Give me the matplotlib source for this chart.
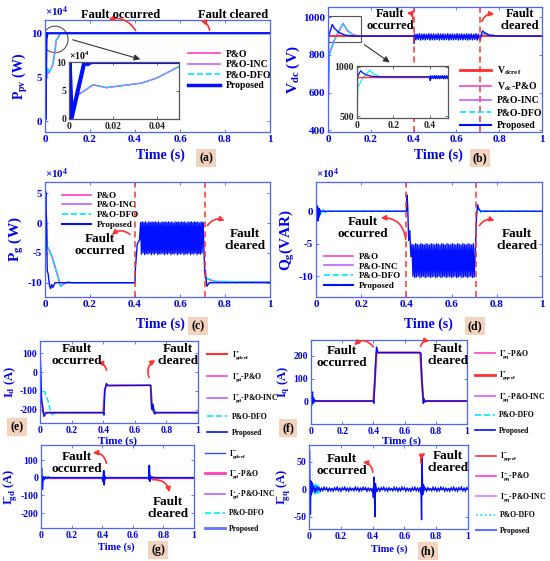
import numpy as np
import matplotlib
matplotlib.use("Agg")
import matplotlib.pyplot as plt
from matplotlib.lines import Line2D
from matplotlib.patches import Ellipse, Rectangle, FancyArrowPatch

plt.rcParams['font.family'] = ['Liberation Serif', 'DejaVu Serif']
plt.rcParams['font.weight'] = 'bold'
plt.rcParams['mathtext.fontset'] = 'custom'
plt.rcParams['mathtext.rm'] = 'Liberation Serif:bold'
plt.rcParams['mathtext.it'] = 'Liberation Serif:bold'
plt.rcParams['mathtext.bf'] = 'Liberation Serif:bold'

W, H = 550, 561
C_PO = '#ff3fbf'
C_INC = '#c060ff'
C_DFO = '#00e8ff'
C_PROP = '#0010ff'
C_REF = '#ff3030'
C_AX = '#4a66ff'
C_TXT = '#0000ee'

T_FAULT_ON = 0.40
T_FAULT_OFF = 0.71

# ---------------- (a) Ppv  (x1e4 W) ----------------
a_t_prop = [0, 0.0003, 0.0012, 0.007, 0.0085, 0.0095, 0.011, 1.0]
a_v_prop = [0, 10, 0.2, 10, 9.6, 9.9, 10, 10]
a_t_po = [0, 0.004, 0.011, 0.017, 0.025, 0.033, 0.040, 0.050, 0.060, 0.068, 0.075, 1.0]
a_v_po = [0, 4.2, 6.0, 5.5, 5.9, 6.3, 7.2, 9.2, 9.6, 10, 10, 10]

# ---------------- (b) Vdc ----------------
b_t_ref = [0, 1.0]
b_v_ref = [900, 900]
b_t_prop_pre = [0, 0.003, 0.02, 0.03, 0.05, 0.08, 0.12, 0.40, 0.402]
b_v_prop_pre = [450, 900, 962, 942, 920, 905, 900, 900, 862]
b_osc = [912, 880, 910, 882, 913, 879, 911, 881, 912, 880, 910, 883, 913, 879,
         911, 881, 912, 880, 910, 882, 913, 879, 911, 881, 912, 880, 910, 882,
         913, 879, 911, 881, 912, 880, 910, 882, 913, 879, 911, 881, 912, 880,
         910, 882, 913, 879, 911, 881, 912, 880, 910, 882, 913, 879, 911, 881]
b_t_prop_post = [0.712, 0.716, 0.722, 0.73, 0.75, 0.80, 1.0]
b_v_prop_post = [880, 905, 928, 920, 905, 900, 900]
b_t_dfo = [0, 0.005, 0.03, 0.07, 0.09, 0.12, 0.15, 0.40, 0.71, 0.72, 0.735, 0.76, 0.80, 1.0]
b_v_dfo = [450, 800, 880, 968, 930, 905, 900, 900, 900, 905, 915, 905, 900, 900]

# ---------------- (c) Pg  (x1e4 W) ----------------
c_t_prop_pre = [0, 0.003, 0.006, 0.010, 0.014, 0.020, 0.025, 0.030, 0.035, 0.045, 0.06,
                0.40, 0.402, 0.41, 0.42]
c_v_prop_pre = [0, 5.3, 1.0, -8.0, -8.5, -10.5, -11.0, -10.3, -10.8, -10.0, -10.0,
                -10.0, -7.5, -3.5, -2.8]
c_osc = [0.1, -5.2, 0.2, -5.0, 0.1, -5.3, 0.2, -5.1, 0.0, -5.2, 0.2, -5.0, 0.1, -5.3,
         0.2, -5.1, 0.1, -5.2, 0.2, -5.0, 0.1, -5.3, 0.2, -5.1, 0.0, -5.2, 0.2, -5.0,
         0.1, -5.3, 0.2, -5.1, 0.1, -5.2, 0.2, -5.0, 0.1, -5.3, 0.2, -5.1, 0.0, -5.2,
         0.2, -5.0, 0.1, -5.3, 0.2, -5.1, 0.1, -5.2, 0.2, -5.0, 0.1, -5.3, 0.2, -5.1,
         0.0, -5.2, 0.2, -5.0, 0.1, -5.3, 0.2, -5.1, 0.1, -5.2, 0.2, -5.0, 0.1, -5.3,
         0.2, -5.1, 0.0, -5.2, 0.2, -5.0, 0.1, -3.0]
c_t_prop_post = [0.71, 0.713, 0.716, 0.72, 0.73, 1.0]
c_v_prop_post = [-8.5, -8.0, -9.5, -10.6, -10.0, -10.0]
c_t_dfo_pre = [0, 0.003, 0.010, 0.020, 0.030, 0.050, 0.070, 0.080, 0.10, 0.12, 0.40]
c_v_dfo_pre = [0, 5.0, -4.0, -4.6, -5.5, -8.0, -10.6, -10.3, -9.9, -10.0, -10.0]
c_t_dfo_post = [0.712, 0.72, 0.74, 0.76, 1.0]
c_v_dfo_post = [-9.0, -9.3, -9.6, -9.8, -9.9]

# ---------------- (d) Qg  (x1e4 VAR) ----------------
d_t_prop_pre = [0, 0.002, 0.004, 0.006, 0.008, 0.010, 0.012, 0.014, 0.016, 0.018,
                0.020, 0.025, 0.40, 0.403, 0.406, 0.41, 0.415, 0.42]
d_v_prop_pre = [0, 1.0, -1.2, 0.8, -1.5, 0.5, -1.0, 0.4, -0.6, 0.2,
                0, 0, 0, 2.5, 0.5, -4.5, -3.0, -7.0]
d_osc = [-5.1, -10.0, -5.2, -10.2, -5.0, -10.1, -5.1, -10.0, -5.2, -10.2, -5.0, -10.1,
         -5.1, -10.0, -5.2, -10.2, -5.0, -10.1, -5.1, -10.0, -5.2, -10.2, -5.0, -10.1,
         -5.1, -10.0, -5.2, -10.2, -5.0, -10.1, -5.1, -10.0, -5.2, -10.2, -5.0, -10.1,
         -5.1, -10.0, -5.2, -10.2, -5.0, -10.1, -5.1, -10.0, -5.2, -10.2, -5.0, -10.1,
         -5.1, -10.0, -5.2, -10.2, -5.0, -10.1, -5.1, -10.0, -5.2, -10.2, -5.0, -10.1,
         -5.1, -10.0, -5.2, -10.2, -5.0, -10.1, -5.1, -10.0, -5.2, -10.2, -5.0, -10.1]
d_t_prop_post = [0.705, 0.71, 0.715, 0.72, 0.73, 1.0]
d_v_prop_post = [-6.0, -1.0, 1.0, 0.3, 0, 0]
d_t_dfo_pre = [0, 0.01, 0.02, 0.03, 0.04, 0.05, 0.40]
d_v_dfo_pre = [0, 0.5, -0.5, 0.3, -0.2, 0, 0]
d_t_dfo_post = [0.72, 0.73, 0.74, 1.0]
d_v_dfo_post = [0.5, -0.3, 0, 0]

# ---------------- (e) Id ----------------
e_t_ref = [0, 0.003, 0.02, 0.40, 0.41, 0.42, 0.70, 0.71, 0.72, 1.0]
e_v_ref = [110, -100, -215, -215, -90, -70, -70, -180, -215, -215]
e_t_prop = [0, 0.003, 0.010, 0.015, 0.020, 0.025, 0.035, 0.05, 0.40, 0.405, 0.41,
            0.42, 0.43, 0.70, 0.705, 0.71, 0.715, 0.725, 0.74, 1.0]
e_v_prop = [110, 60, -150, -170, -210, -235, -220, -215, -215, -228, -100,
            -60, -72, -70, -180, -200, -170, -222, -215, -215]
e_t_dfo_pre = [0, 0.005, 0.010, 0.030, 0.050, 0.070, 0.080, 0.10, 0.40]
e_v_dfo_pre = [110, -60, -100, -105, -150, -220, -225, -215, -215]
e_t_dfo_post = [0.715, 0.72, 0.74, 1.0]
e_v_dfo_post = [-190, -200, -215, -215]

# ---------------- (f) Iq ----------------
f_t_ref = [0, 0.40, 0.41, 0.42, 0.70, 0.71, 0.72, 1.0]
f_v_ref = [0, 0, 100, 215, 215, 100, 0, 0]
f_t_prop = [0, 0.002, 0.004, 0.008, 0.010, 0.013, 0.016, 0.020, 0.025, 0.030, 0.40,
            0.403, 0.41, 0.415, 0.42, 0.425, 0.43, 0.70, 0.705, 0.71, 0.72, 0.725,
            0.73, 0.74, 1.0]
f_v_prop = [-60, 10, -20, 30, 40, -10, 15, -5, 5, 0, 0,
            -10, 100, 180, 240, 225, 215, 215, 210, 100, -10, 10,
            -5, 0, 0]

# ---------------- (g) I-gd ----------------
g_t_prop = [0, 0.003, 0.006, 0.009, 0.012, 0.016, 0.020, 0.030, 0.040, 0.050, 0.060,
            0.40, 0.405, 0.41, 0.413, 0.416, 0.42, 0.43, 0.70, 0.705, 0.708, 0.711,
            0.715, 0.72, 0.73, 0.75, 1.0]
g_v_prop = [0, 55, 10, -65, -20, 5, -10, 5, -3, 2, 0,
            0, -20, 40, -40, 10, -5, 0, 0, -10, 70, -20,
            10, -5, 3, 0, 0]
g_t_dfo = [0, 0.03, 0.035, 0.04, 0.045, 0.05, 0.055, 0.06, 1.0]
g_v_dfo = [0, 0, 8, -6, 7, -5, 4, 0, 0]

# ---------------- (h) I-gq ----------------
h_noise = [2, -4, 5, -3, 4, -5, 3, -4, 5, -2, 4, -5, 3, -4, 2, -5, 4, -3, 5, -4,
           3, -5, 4, -2, 5, -4, 3, -5, 4, -3, 2, -4, 5, -3, 4, -5, 3, -4, 5, -2,
           4, -5, 3, -4, 2, -5, 4, -3, 5, -4, 3, -5, 4, -2, 5, -4, 3, -5, 4, -3,
           2, -4, 5, -3, 4, -5, 3, -4, 5, -2, 4, -5, 3, -4, 2, -5, 4, -3, 5, -4,
           3, -5, 4, -2, 5, -4, 3, -5, 4, -3, 2, -4, 5, -3, 4, -5, 3, -4, 5, -2,
           4, -5, 3, -4, 2, -5, 4, -3, 5, -4, 3, -5, 4, -2, 5, -4, 3, -5, 4, 0]
h_t_spk = [0, 0.003, 0.006, 0.009, 0.012, 0.015, 0.018, 0.022, 0.03, 0.04, 0.05, 0.06,
           0.40, 0.405, 0.41, 0.414, 0.418, 0.422, 0.43, 0.70, 0.705, 0.708, 0.711,
           0.715, 0.72, 0.73, 1.0]
h_v_spk = [0, 70, 10, -45, 15, -10, 12, -5, 6, -6, 4, 0,
           0, -15, 22, -50, 10, -5, 0, 0, -10, -55, 62,
           -10, 8, 0, 0]
h_t_dfo = [0.02, 0.03, 0.035, 0.04, 0.045, 0.05, 0.055, 0.06, 0.065, 0.07, 0.08]
h_v_dfo = [0, 8, -10, 9, -7, 10, -8, 6, -5, 4, 0]


def px_axes(fig, left, right, top, bottom):
    return fig.add_axes([left / W, 1 - bottom / H, (right - left) / W, (bottom - top) / H])


def style_ax(ax, ylim, yticks, ylabel, xlim=(0, 1), xticks=(0, 0.2, 0.4, 0.6, 0.8, 1),
             fs=8, ylfs=10):
    ax.set_xlim(*xlim)
    ax.set_ylim(*ylim)
    ax.set_xticks(xticks)
    ax.set_xticklabels(['%g' % v for v in xticks])
    ax.set_yticks(yticks)
    ax.set_yticklabels(['%g' % v for v in yticks])
    ax.tick_params(colors=C_AX, labelcolor=C_TXT, labelsize=fs, length=2, width=0.6, pad=2,
                   direction='in', top=True, right=True)
    for lab in ax.get_xticklabels() + ax.get_yticklabels():
        lab.set_fontweight('bold')
    for s in ax.spines.values():
        s.set_color(C_AX)
        s.set_linewidth(0.9)
    if ylabel:
        ax.set_ylabel(ylabel, color=C_TXT, fontsize=ylfs, fontweight='bold', labelpad=1)


def fig_text(fig, x, y, s, fs=9, color='black', **kw):
    fig.text(x / W, 1 - y / H, s, fontsize=fs, color=color, fontweight='bold',
             ha='center', va='center', **kw)


def tag(fig, x, y, s):
    fig.text(x / W, 1 - y / H, s, fontsize=8.5, fontweight='bold', ha='center', va='center',
             bbox=dict(boxstyle='square,pad=0.25', fc='#f3d3bd', ec='none'))


def red_arrow(fig, start, end, rad):
    fig.add_artist(FancyArrowPatch(
        (start[0] / W, 1 - start[1] / H), (end[0] / W, 1 - end[1] / H),
        transform=fig.transFigure, arrowstyle='-|>', mutation_scale=7,
        color=C_REF, lw=1.2, connectionstyle='arc3,rad=%g' % rad))


def x1e4(ax):
    ax.text(0.0, 1.01, r'$\times10^{4}$', transform=ax.transAxes, color=C_TXT,
            fontsize=8, ha='left', va='bottom')


def fault_lines(ax):
    ax.axvline(T_FAULT_ON, color=C_REF, ls='--', lw=1.1, dashes=(4, 2.5))
    ax.axvline(T_FAULT_OFF, color=C_REF, ls='--', lw=1.1, dashes=(4, 2.5))


def legend(ax, handles, labels, loc, bbox, fs=7, hl=3.2, spacing=0.15):
    lg = ax.legend(handles, labels, loc=loc, bbox_to_anchor=bbox, frameon=False,
                   fontsize=fs, handlelength=hl, labelspacing=spacing, borderaxespad=0,
                   handletextpad=0.6)
    for t in lg.get_texts():
        t.set_fontweight('bold')


def h(color, lw=1.2, ls='-'):
    return Line2D([], [], color=color, lw=lw, ls=ls)


fig = plt.figure(figsize=(5.5, 5.61), dpi=100)

# ======================= (a) =======================
ax = px_axes(fig, 45, 270, 20, 132)
ax.plot(a_t_po, a_v_po, color=C_PO, lw=1)
ax.plot(a_t_po, a_v_po, color=C_INC, lw=1)
ax.plot(a_t_po, a_v_po, color=C_DFO, lw=1, ls='--')
ax.plot(a_t_prop, a_v_prop, color=C_PROP, lw=1.6)
style_ax(ax, (-1.2, 11.5), [0, 5, 10], r'P$_{\mathrm{pv}}$ (W)')
x1e4(ax)
ax.add_patch(Ellipse((0.045, 9.3), 0.115, 3.0, fill=False, ec='#555555', lw=0.8))
legend(ax, [h(C_PO), h(C_INC), h(C_DFO, 1.2, '--'), h(C_PROP, 2.5)],
       ['P&O', 'P&O-INC', 'P&O-DFO', 'Proposed'], 'upper left', (0.62, 0.77))
axi = px_axes(fig, 69, 179, 62, 119)
axi.plot(a_t_po, a_v_po, color=C_PO, lw=1)
axi.plot(a_t_po, a_v_po, color=C_INC, lw=1)
axi.plot(a_t_po, a_v_po, color=C_DFO, lw=0.8, ls='--')
axi.plot(a_t_prop, a_v_prop, color=C_PROP, lw=3)
style_ax(axi, (0, 10), [0, 5, 10], None, xlim=(0, 0.05), xticks=(0, 0.02, 0.04), fs=7)
for s in axi.spines.values():
    s.set_color('#555555')
axi.tick_params(labelcolor='#222222', colors='#555555')
axi.text(0.0, 1.0, r'$\times10^{4}$', transform=axi.transAxes, fontsize=7, va='bottom')
fig.add_artist(FancyArrowPatch(
    (70 / W, 1 - 39 / H), (143 / W, 1 - 60 / H), transform=fig.transFigure,
    arrowstyle='-|>', mutation_scale=9, color='#333333', lw=0.8))
fig_text(fig, 121, 15, 'Fault occurred', fs=9)
fig_text(fig, 233, 15, 'Fault cleared', fs=9)
red_arrow(fig, (137, 33), (106, 20), 0.4)
red_arrow(fig, (210, 33), (198, 20), 0.4)
fig_text(fig, 160, 155, 'Time (s)', fs=10, color=C_TXT)
tag(fig, 206, 158, '(a)')

# ======================= (b) =======================
ax = px_axes(fig, 328, 542, 7, 132)
b_t_osc = np.linspace(0.405, 0.708, len(b_osc))
b_t_prop = b_t_prop_pre + list(b_t_osc) + b_t_prop_post
b_v_prop = b_v_prop_pre + b_osc + b_v_prop_post
ax.plot(b_t_dfo, b_v_dfo, color=C_PO, lw=1)
ax.plot(b_t_dfo, b_v_dfo, color=C_INC, lw=1)
ax.plot(b_t_dfo, b_v_dfo, color=C_DFO, lw=1, ls='--')
ax.plot(b_t_ref, b_v_ref, color=C_REF, lw=1.4)
ax.plot(b_t_prop, b_v_prop, color=C_PROP, lw=1)
fault_lines(ax)
style_ax(ax, (390, 1055), [400, 600, 800, 1000], r'V$_{\mathrm{dc}}$ (V)', ylfs=11)
ax.add_patch(Rectangle((0, 870), 0.155, 135, fill=False, ec='#555555', lw=0.8))
legend(ax, [h(C_REF, 2), h(C_PO), h(C_INC), h(C_DFO, 1.2, '--'), h(C_PROP, 1.5)],
       [r'V$_{\mathrm{dcref}}$', r'V$_{\mathrm{dc}}$-P&O', 'P&O-INC', 'P&O-DFO', 'Proposed'],
       'upper left', (0.6, 0.57), spacing=0.35)
axi = px_axes(fig, 357, 448, 66, 118)
axi.plot(b_t_dfo, b_v_dfo, color=C_DFO, lw=0.8)
axi.plot(b_t_ref, b_v_ref, color=C_REF, lw=1)
axi.plot(b_t_prop, b_v_prop, color=C_PROP, lw=0.9)
style_ax(axi, (480, 1010), [500, 1000], None, xlim=(0, 0.5), xticks=(0, 0.2, 0.4), fs=7)
for s in axi.spines.values():
    s.set_color('#555555')
axi.tick_params(labelcolor='#222222', colors='#555555')
fig.add_artist(FancyArrowPatch(
    (362 / W, 1 - 43 / H), (392 / W, 1 - 64 / H), transform=fig.transFigure,
    arrowstyle='-|>', mutation_scale=9, color='#333333', lw=0.8))
fig_text(fig, 390, 20, 'Fault\noccurred', fs=9, linespacing=1.0)
fig_text(fig, 520, 20, 'Fault\ncleared', fs=9, linespacing=1.0)
red_arrow(fig, (413, 22), (404, 13), 0.6)
red_arrow(fig, (481, 24), (497, 15), -0.5)
fig_text(fig, 438, 155, 'Time (s)', fs=10, color=C_TXT)
tag(fig, 480, 158, '(b)')

# ======================= (c) =======================
ax = px_axes(fig, 45, 270, 182, 297)
c_t_osc = np.linspace(0.425, 0.705, len(c_osc))
c_t_prop = c_t_prop_pre + list(c_t_osc) + c_t_prop_post
c_v_prop = c_v_prop_pre + c_osc + c_v_prop_post
for tt, vv in [(c_t_dfo_pre, c_v_dfo_pre), (c_t_dfo_post, c_v_dfo_post)]:
    ax.plot(tt, vv, color=C_PO, lw=1)
    ax.plot(tt, vv, color=C_INC, lw=1)
    ax.plot(tt, vv, color=C_DFO, lw=1.1, ls='--')
ax.plot(c_t_prop, c_v_prop, color=C_PROP, lw=1)
fault_lines(ax)
style_ax(ax, (-12.4, 6.9), [-10, -5, 0, 5], r'P$_{\mathrm{g}}$ (W)', ylfs=11)
x1e4(ax)
legend(ax, [h(C_PO), h(C_INC), h(C_DFO, 1.2, '--'), h(C_PROP, 1.5)],
       ['P&O', 'P&O-INC', 'P&O-DFO', 'Proposed'], 'upper left', (0.06, 0.95), fs=6.5)
fig_text(fig, 100, 245, 'Fault\noccurred', fs=9.5, linespacing=1.1)
fig_text(fig, 245, 240, 'Fault\ncleared', fs=9.5, linespacing=1.1)
red_arrow(fig, (132, 236), (110, 237), 0.5)
red_arrow(fig, (206, 228), (227, 222), -0.5)
fig_text(fig, 160, 324, 'Time (s)', fs=10, color=C_TXT)
tag(fig, 198, 326, '(c)')

# ======================= (d) =======================
ax = px_axes(fig, 316, 542, 182, 297)
d_t_osc = np.linspace(0.425, 0.70, len(d_osc))
d_t_prop = d_t_prop_pre + list(d_t_osc) + d_t_prop_post
d_v_prop = d_v_prop_pre + d_osc + d_v_prop_post
for tt, vv in [(d_t_dfo_pre, d_v_dfo_pre), (d_t_dfo_post, d_v_dfo_post)]:
    ax.plot(tt, vv, color=C_DFO, lw=1.1, ls='--')
ax.plot(d_t_prop, d_v_prop, color=C_PROP, lw=1)
fault_lines(ax)
style_ax(ax, (-13.2, 4.5), [-10, -5, 0], r'Q$_{\mathrm{g}}$(VAR)', ylfs=11)
x1e4(ax)
legend(ax, [h(C_PO), h(C_INC), h(C_DFO, 1.2, '--'), h(C_PROP, 1.5)],
       ['P&O', 'P&O-INC', 'P&O-DFO', 'Proposed'], 'lower left', (0.02, 0.03), fs=6.5)
fig_text(fig, 363, 228, 'Fault\noccurred', fs=9.5, linespacing=1.1)
fig_text(fig, 517, 240, 'Fault\ncleared', fs=9.5, linespacing=1.1)
red_arrow(fig, (406, 242), (378, 218), 0.5)
red_arrow(fig, (478, 228), (497, 222), -0.5)
fig_text(fig, 428, 324, 'Time (s)', fs=10, color=C_TXT)
tag(fig, 475, 326, '(d)')

# ======================= (e) =======================
ax = px_axes(fig, 40, 198, 341, 423)
for tt, vv in [(e_t_dfo_pre, e_v_dfo_pre), (e_t_dfo_post, e_v_dfo_post)]:
    ax.plot(tt, vv, color=C_DFO, lw=1.1, ls='--')
ax.plot(e_t_ref, e_v_ref, color=C_REF, lw=1.3)
ax.plot(e_t_prop, e_v_prop, color=C_PROP, lw=1)
style_ax(ax, (-270, 165), [-200, -100, 0, 100], r'I$_{\mathrm{d}}$ (A)', fs=7, ylfs=9)
legend(ax, [h(C_REF, 1.5), h(C_PO), h(C_INC), h(C_DFO, 1.2, '--'), h(C_PROP)],
       [r'I$^{*}_{\mathrm{gdref}}$', r'I$^{*}_{\mathrm{gd}}$-P&O', r'I$^{*}_{\mathrm{gd}}$-P&O-INC',
        'P&O-DFO', 'Proposed'], 'upper left', (1.04, 0.95), fs=5.5, hl=2.6, spacing=1.0)
fig_text(fig, 77, 355, 'Fault\noccurred', fs=9.5, linespacing=1.1)
fig_text(fig, 178, 355, 'Fault\ncleared', fs=9.5, linespacing=1.1)
red_arrow(fig, (107, 373), (95, 363), 0.5)
red_arrow(fig, (150, 380), (158, 359), -0.5)
fig_text(fig, 118, 441, 'Time (s)', fs=8, color=C_TXT)
tag(fig, 17, 427, '(e)')

# ======================= (f) =======================
ax = px_axes(fig, 311, 467, 340, 424)
ax.plot(f_t_ref, f_v_ref, color=C_REF, lw=1.5)
ax.plot(f_t_prop, f_v_prop, color=C_PROP, lw=1)
style_ax(ax, (-102, 271), [0, 100, 200], r'I$_{\mathrm{q}}$ (A)', fs=7, ylfs=9)
legend(ax, [h(C_PO), h(C_REF, 2), h(C_INC), h(C_DFO, 1.2, '--'), h(C_PROP)],
       [r'I$^{*}_{\mathrm{gq}}$-P&O', r'I$^{*}_{\mathrm{gqref}}$', r'I$^{*}_{\mathrm{gq}}$-P&O-INC',
        'P&O-DFO', 'Proposed'], 'upper left', (1.03, 0.95), fs=5.5, hl=2.6, spacing=1.0)
fig_text(fig, 342, 357, 'Fault\noccurred', fs=9.5, linespacing=1.1)
fig_text(fig, 448, 355, 'Fault\ncleared', fs=9.5, linespacing=1.1)
red_arrow(fig, (375, 349), (352, 347), 0.6)
red_arrow(fig, (420, 349), (432, 342), -0.6)
fig_text(fig, 402, 441, 'Time (s)', fs=8, color=C_TXT)
tag(fig, 288, 428, '(f)')

# ======================= (g) =======================
ax = px_axes(fig, 41, 194, 445, 528)
ax.plot(g_t_dfo, g_v_dfo, color=C_DFO, lw=1, ls='--')
ax.plot([0, 1], [0, 0], color=C_PO, lw=1)
ax.plot(g_t_prop, g_v_prop, color=C_PROP, lw=1.2)
style_ax(ax, (-284, 185), [-200, -100, 0, 100], r'I$^{-}_{\mathrm{gd}}$ (A)', fs=7, ylfs=9)
legend(ax, [h('#3050ff', 1), h(C_PO, 2), h(C_INC), h(C_DFO, 1.2, '--'), h('#6070ff', 2)],
       [r'I$^{-}_{\mathrm{gdref}}$', r'I$^{-}_{\mathrm{gd}}$-P&O', r'I$^{+}_{\mathrm{gd}}$-P&O-INC',
        'P&O-DFO', 'Proposed'], 'upper left', (1.05, 1.0), fs=5.5, hl=2.6, spacing=1.0)
fig_text(fig, 77, 463, 'Fault\noccurred', fs=9.5, linespacing=1.1)
fig_text(fig, 168, 508, 'Fault\ncleared', fs=9.5, linespacing=1.1)
red_arrow(fig, (107, 466), (90, 453), 0.5)
red_arrow(fig, (150, 480), (170, 495), -0.5)
fig_text(fig, 116, 547, 'Time (s)', fs=7.5, color=C_TXT)
tag(fig, 158, 550, '(g)')

# ======================= (h) =======================
ax = px_axes(fig, 309, 468, 445, 529)
h_t_noise = np.linspace(0.03, 1.0, len(h_noise))
ax.plot(h_t_dfo, h_v_dfo, color=C_DFO, lw=1, ls='--')
ax.plot(h_t_noise, h_noise, color=C_PROP, lw=0.7)
ax.plot(h_t_spk, h_v_spk, color=C_PROP, lw=1)
style_ax(ax, (-72, 80), [-50, 0, 50], r'I$^{-}_{\mathrm{gq}}$ (A)', fs=7, ylfs=9)
legend(ax, [h(C_REF), h(C_PO), h('#e090ff', 1.5), h(C_DFO, 1.2, ':'), h('#6070ff', 1.5)],
       [r'I$^{-}_{\mathrm{gqref}}$', r'I$^{-}_{\mathrm{gq}}$-P&O', r'I$^{-}_{\mathrm{gq}}$-P&O-INC',
        'P&O-DFO', 'Proposed'], 'upper left', (1.03, 0.97), fs=5.5, hl=2.6, spacing=1.0)
fig_text(fig, 342, 465, 'Fault\noccurred', fs=9.5, linespacing=1.1)
fig_text(fig, 448, 462, 'Fault\ncleared', fs=9.5, linespacing=1.1)
red_arrow(fig, (373, 475), (360, 462), 0.5)
red_arrow(fig, (422, 466), (428, 452), -0.5)
fig_text(fig, 389, 549, 'Time (s)', fs=7.5, color=C_TXT)
tag(fig, 428, 551, '(h)')

fig.savefig('out.png', dpi=100)
